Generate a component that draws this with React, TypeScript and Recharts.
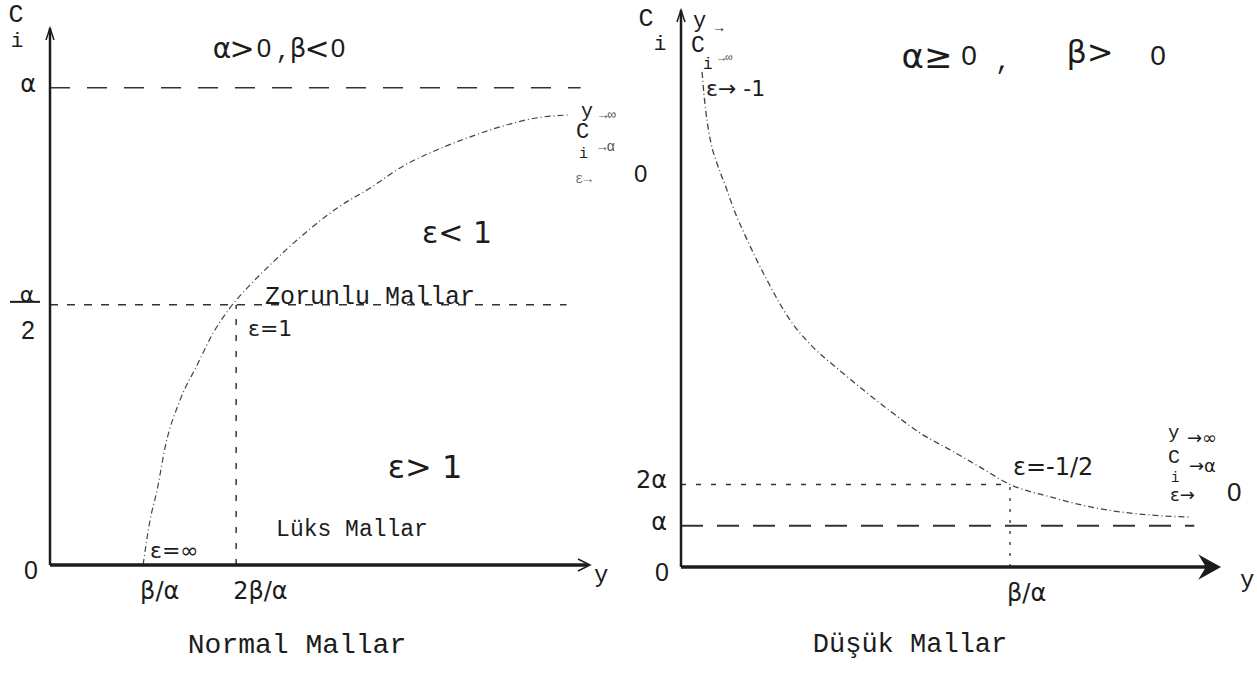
import { LineChart, Line, XAxis, YAxis, ReferenceLine, ReferenceDot } from 'recharts'

// Normal goods: income in units of β/α, share C_i in units of α
const normalIncome = [1.0, 1.075, 1.151, 1.237, 1.398, 1.581, 1.753, 1.935, 2.151, 2.366, 2.72, 3.086, 3.441, 3.796, 4.161, 4.516, 4.871, 5.237, 5.591]
const normalShare = [0, 0.094, 0.157, 0.247, 0.346, 0.419, 0.486, 0.539, 0.587, 0.629, 0.692, 0.748, 0.79, 0.836, 0.87, 0.897, 0.92, 0.937, 0.943]
const normalXTicks = [1, 2]
const normalXLabels = ['β/α', '2β/α']
const normalYTicks = [0, 0.545, 1]
const normalYLabels = ['0', 'α/2', 'α']
const normalCeiling = 1
const normalHalf = 0.545
const normalUnitIncome = 2

// Inferior goods: income in units of β/α, share C_i in units of α
const inferiorIncome = [0.064, 0.07, 0.079, 0.091, 0.109, 0.134, 0.164, 0.201, 0.261, 0.331, 0.401, 0.474, 0.565, 0.644, 0.726, 0.818, 0.909, 1.0, 1.122, 1.274, 1.426, 1.547]
const inferiorShare = [12.0, 11.44, 10.83, 10.28, 9.79, 9.26, 8.6, 7.93, 6.96, 5.99, 5.33, 4.82, 4.22, 3.73, 3.25, 2.84, 2.42, 2.0, 1.7, 1.41, 1.26, 1.21]
const inferiorXTicks = [1]
const inferiorXLabels = ['β/α']
const inferiorYTicks = [0, 1, 2]
const inferiorYLabels = ['0', 'α', '2α']
const inferiorFloor = 1
const inferiorDouble = 2
const inferiorUnitIncome = 1

const MONO = "'Liberation Mono', 'DejaVu Sans Mono', monospace"
const HAND = "'DejaVu Sans', 'Noto Sans', sans-serif"
const DIGIT = "'Liberation Sans', 'DejaVu Sans', sans-serif"
const INK = '#1c1c1c'

type TickProps = {
  x?: number
  y?: number
  payload?: { value: number }
  ticks: number[]
  labels: string[]
  side: 'x' | 'y'
}

function AxisTick({ x = 0, y = 0, payload, ticks, labels, side }: TickProps) {
  const value = payload ? payload.value : NaN
  const label = labels[ticks.indexOf(value)] ?? ''
  if (side === 'x') {
    return (
      <text x={x - 3} y={y + 18} fontSize={24} fill={INK} fontFamily={HAND} dominantBaseline="central">
        {label}
      </text>
    )
  }
  if (label === '0') {
    return (
      <text x={x - 4} y={y + 5} fontSize={25} fill={INK} fontFamily={DIGIT} textAnchor="end" dominantBaseline="central">
        0
      </text>
    )
  }
  if (label.includes('/')) {
    const [num, den] = label.split('/')
    return (
      <g>
        <text x={x - 15} y={y - 10} fontSize={22} fill={INK} fontFamily={HAND} textAnchor="middle" dominantBaseline="central">
          {num}
        </text>
        <line x1={x - 32} x2={x - 2} y1={y - 3} y2={y - 3} stroke={INK} strokeWidth={2} />
        <text x={x - 7} y={y + 25} fontSize={25} fill={INK} fontFamily={DIGIT} textAnchor="end" dominantBaseline="central">
          {den}
        </text>
      </g>
    )
  }
  return (
    <text x={x - 6} y={y - 4} fontSize={24} fill={INK} fontFamily={HAND} textAnchor="end" dominantBaseline="central">
      {label}
    </text>
  )
}

const upArrow = (p: any) => (
  <path d={`M${p.cx - 4},${p.cy + 12} L${p.cx},${p.cy} L${p.cx + 4},${p.cy + 12}`} stroke={INK} strokeWidth={1.5} fill="none" />
)

const rightArrow = (p: any) => (
  <path d={`M${p.cx - 10},${p.cy - 6} L${p.cx + 2},${p.cy} L${p.cx - 10},${p.cy + 6}`} stroke={INK} strokeWidth={1.5} fill="none" />
)

const boldRightArrow = (p: any) => (
  <path d={`M${p.cx - 14},${p.cy - 10} L${p.cx + 4},${p.cy} L${p.cx - 14},${p.cy + 10} L${p.cx - 8},${p.cy} Z`} stroke={INK} strokeWidth={2} fill={INK} />
)

function NormalChart() {
  const data = normalIncome.map((inc, i) => ({ inc, ci: normalShare[i] }))
  return (
    <LineChart width={620} height={686} data={data} margin={{ top: 28, right: 32, bottom: 61, left: 0 }}>
      <XAxis
        type="number"
        dataKey="inc"
        domain={[0, 5.78]}
        allowDataOverflow
        ticks={normalXTicks}
        interval={0}
        height={60}
        tickLine={false}
        axisLine={{ stroke: INK, strokeWidth: 3.5 }}
        tick={<AxisTick ticks={normalXTicks} labels={normalXLabels} side="x" />}
      />
      <YAxis
        type="number"
        domain={[0, 1.125]}
        allowDataOverflow
        ticks={normalYTicks}
        interval={0}
        width={50}
        tickLine={false}
        axisLine={{ stroke: INK, strokeWidth: 2.5 }}
        tick={<AxisTick ticks={normalYTicks} labels={normalYLabels} side="y" />}
      />
      <ReferenceLine
        segment={[{ x: 0, y: normalCeiling }, { x: 5.7, y: normalCeiling }]}
        stroke="#333"
        strokeWidth={1.5}
        strokeDasharray="20 17"
      />
      <ReferenceLine
        segment={[{ x: 0, y: normalHalf }, { x: 5.55, y: normalHalf }]}
        stroke="#333"
        strokeWidth={1.5}
        strokeDasharray="8 9"
      />
      <ReferenceLine
        segment={[{ x: normalUnitIncome, y: 0 }, { x: normalUnitIncome, y: normalHalf }]}
        stroke="#333"
        strokeWidth={1.5}
        strokeDasharray="6 10"
      />
      <ReferenceDot x={0} y={1.125} r={0} shape={upArrow} />
      <ReferenceDot x={5.78} y={0} r={0} shape={rightArrow} />
      <Line
        type="monotone"
        dataKey="ci"
        stroke="#444"
        strokeWidth={1.2}
        strokeDasharray="6 3 1 3"
        dot={false}
        isAnimationActive={false}
      />
    </LineChart>
  )
}

function InferiorChart() {
  const data = inferiorIncome.map((inc, i) => ({ inc, ci: inferiorShare[i] }))
  return (
    <LineChart width={637} height={686} data={data} margin={{ top: 10, right: 42, bottom: 59, left: 0 }}>
      <XAxis
        type="number"
        dataKey="inc"
        domain={[0, 1.623]}
        allowDataOverflow
        ticks={inferiorXTicks}
        interval={0}
        height={60}
        tickLine={false}
        axisLine={{ stroke: INK, strokeWidth: 3.5 }}
        tick={<AxisTick ticks={inferiorXTicks} labels={inferiorXLabels} side="x" />}
      />
      <YAxis
        type="number"
        domain={[0, 13.5]}
        allowDataOverflow
        ticks={inferiorYTicks}
        interval={0}
        width={61}
        tickLine={false}
        axisLine={{ stroke: INK, strokeWidth: 2.5 }}
        tick={<AxisTick ticks={inferiorYTicks} labels={inferiorYLabels} side="y" />}
      />
      <ReferenceLine
        segment={[{ x: 0, y: inferiorDouble }, { x: inferiorUnitIncome, y: inferiorDouble }]}
        stroke="#333"
        strokeWidth={1.3}
        strokeDasharray="5 10"
      />
      <ReferenceLine
        segment={[{ x: 0, y: inferiorFloor }, { x: 1.56, y: inferiorFloor }]}
        stroke="#333"
        strokeWidth={1.8}
        strokeDasharray="22 14"
      />
      <ReferenceLine
        segment={[{ x: inferiorUnitIncome, y: 0 }, { x: inferiorUnitIncome, y: inferiorDouble }]}
        stroke="#333"
        strokeWidth={1.3}
        strokeDasharray="3 8"
      />
      <ReferenceDot x={0} y={13.5} r={0} shape={upArrow} />
      <ReferenceDot x={1.623} y={0} r={0} shape={boldRightArrow} />
      <Line
        type="monotone"
        dataKey="ci"
        stroke="#444"
        strokeWidth={1.3}
        strokeDasharray="6 3 1 3"
        dot={false}
        isAnimationActive={false}
      />
    </LineChart>
  )
}

function Note({ x, y, size = 24, font = MONO, anchor = 'start', color = INK, children }: any) {
  return (
    <text x={x} y={y} fontSize={size} fontFamily={font} fill={color} textAnchor={anchor} dominantBaseline="central">
      {children}
    </text>
  )
}

export default function App() {
  return (
    <div style={{ position: 'absolute', left: 0, top: 0, width: 1257, height: 686, background: '#fff', overflow: 'hidden' }}>
      <div style={{ position: 'absolute', left: 0, top: 0 }}>
        <NormalChart />
      </div>
      <div style={{ position: 'absolute', left: 620, top: 0 }}>
        <InferiorChart />
      </div>
      <svg width={1257} height={686} style={{ position: 'absolute', left: 0, top: 0, pointerEvents: 'none' }}>
        {/* left panel */}
        <Note x={16} y={15} size={25} anchor="middle">C</Note>
        <Note x={17} y={41} size={21} anchor="middle">i</Note>
        <Note x={222} y={48} size={28} font={HAND} anchor="middle">α</Note>
        <Note x={242} y={48} size={30} font={HAND} anchor="middle">&gt;</Note>
        <Note x={264} y={48} size={26} font={DIGIT} anchor="middle">0</Note>
        <Note x={283} y={52} size={24} anchor="middle">,</Note>
        <Note x={298} y={48} size={26} font={HAND} anchor="middle">β</Note>
        <Note x={317} y={48} size={30} font={HAND} anchor="middle">&lt;</Note>
        <Note x={338} y={48} size={26} font={DIGIT} anchor="middle">0</Note>

        <Note x={581} y={111} size={20}>y</Note>
        <Note x={599} y={115} size={14} color="#555">→∞</Note>
        <Note x={576} y={132} size={22}>C</Note>
        <Note x={579} y={154} size={15}>i</Note>
        <Note x={598} y={147} size={14} color="#555">→α</Note>
        <Note x={575} y={179} size={14} color="#777">ε→</Note>
        <Note x={634} y={173} size={24} font={DIGIT}>0</Note>

        <Note x={457} y={232} size={30} font={HAND} anchor="middle">ε&lt; 1</Note>
        <Note x={370} y={297} size={25} anchor="middle">Zorunlu Mallar</Note>
        <Note x={248} y={328} size={22} font={HAND}>ε=1</Note>
        <Note x={425} y={467} size={32} font={HAND} anchor="middle">ε&gt; 1</Note>
        <Note x={352} y={530} size={23} anchor="middle">Lüks Mallar</Note>
        <Note x={150} y={550} size={22} font={HAND}>ε=∞</Note>
        <Note x={594} y={575} size={24}>y</Note>
        <Note x={297} y={645} size={28} anchor="middle">Normal Mallar</Note>

        {/* right panel */}
        <Note x={646} y={19} size={25} anchor="middle">C</Note>
        <Note x={660} y={44} size={21} anchor="middle">i</Note>
        <Note x={693} y={21} size={22}>y</Note>
        <Note x={715} y={28} size={14}>→</Note>
        <Note x={691} y={46} size={23}>C</Note>
        <Note x={703} y={65} size={16}>i</Note>
        <Note x={718} y={58} size={12} color="#555">→∞</Note>
        <Note x={706} y={88} size={22} font={HAND}>ε→ -1</Note>
        <Note x={927} y={56} size={34} font={HAND} anchor="middle">α≥</Note>
        <Note x={969} y={55} size={28} font={DIGIT} anchor="middle">0</Note>
        <Note x={1003} y={62} size={26} anchor="middle">,</Note>
        <Note x={1090} y={52} size={32} font={HAND} anchor="middle">β&gt;</Note>
        <Note x={1158} y={55} size={28} font={DIGIT} anchor="middle">0</Note>

        <Note x={1013} y={467} size={24} font={HAND}>ε=-1/2</Note>
        <Note x={1168} y={433} size={19}>y</Note>
        <Note x={1187} y={437} size={18} font={HAND}>→∞</Note>
        <Note x={1168} y={457} size={20}>C</Note>
        <Note x={1171} y={478} size={14}>i</Note>
        <Note x={1189} y={465} size={18} font={HAND}>→α</Note>
        <Note x={1170} y={494} size={18} font={HAND}>ε→</Note>
        <Note x={1227} y={492} size={26} font={DIGIT}>0</Note>
        <Note x={1240} y={580} size={24}>y</Note>
        <Note x={910} y={645} size={27} anchor="middle">Düşük Mallar</Note>
      </svg>
    </div>
  )
}
